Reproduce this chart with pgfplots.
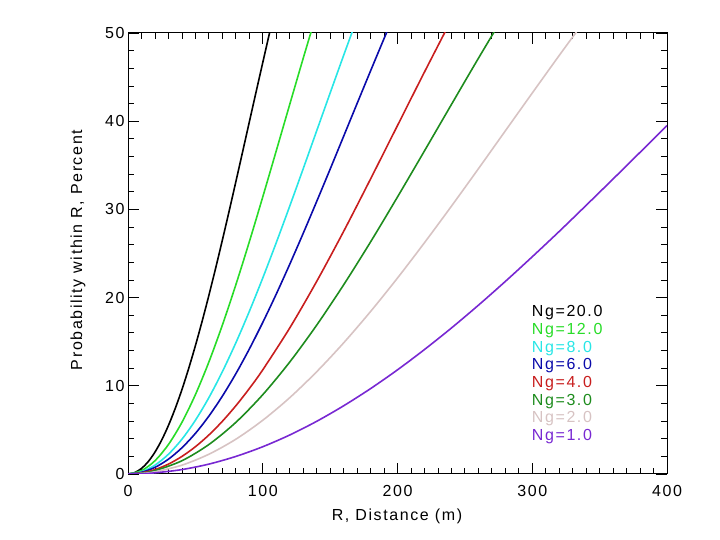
\documentclass[border=0pt]{standalone}
\usepackage{pgfplots}
\pgfplotsset{compat=1.18}
\usepackage{fontspec}
\setmainfont{Liberation Sans}[LetterSpace=10]
\definecolor{cBlack}{RGB}{0,0,0}
\definecolor{cGreen}{RGB}{40,220,40}
\definecolor{cCyan}{RGB}{40,230,230}
\definecolor{cNavy}{RGB}{10,10,170}
\definecolor{cRed}{RGB}{200,30,30}
\definecolor{cDkGreen}{RGB}{30,140,30}
\definecolor{cPink}{RGB}{215,195,195}
\definecolor{cPurple}{RGB}{120,40,210}
\begin{document}
\begin{tikzpicture}[x=1pt,y=1pt]
\path (0,0) rectangle (720,540);
\begin{axis}[
  at={(128pt,66pt)}, anchor=south west,
  scale only axis, width=539pt, height=441pt,
  xmin=0, xmax=400, ymin=0, ymax=50,
  xtick={0,100,200,300,400}, ytick={0,10,20,30,40,50},
  minor x tick num=9, minor y tick num=4,
  tick align=inside, tick pos=both,
  major tick length=11pt, minor tick length=6pt,
  every tick/.style={black, line width=0.8pt},
  axis line style={line width=1pt},
  font=\fontsize{16}{18}\selectfont,
  /pgf/number format/assume math mode=true,
  xticklabel style={yshift=-8pt},
  xlabel={R, Distance (m)},
  ylabel={Probability within R, Percent},
  xlabel style={at={(axis description cs:0.499,-0.095)}, anchor=center},
  ylabel style={at={(axis description cs:-0.093,0.508)}, anchor=center, rotate=0},
  every axis plot/.append style={line width=1.6pt, smooth},
]
% Ng=20
\addplot[cBlack] coordinates {(0,0)(5,0.16)(10,0.63)(15,1.40)(20,2.48)(25,3.85)(30,5.50)(35,7.41)(40,9.56)(45,11.95)(50,14.54)(55,17.31)(60,20.24)(65,23.31)(70,26.50)(75,29.77)(80,33.11)(85,36.49)(90,39.89)(95,43.28)(100,46.64)(105,49.98)(110,53.25)};
% Ng=12
\addplot[cGreen] coordinates {(0,0)(10,0.38)(20,1.50)(30,3.34)(40,5.85)(50,8.99)(60,12.69)(70,16.87)(80,21.44)(90,26.31)(100,31.41)(110,36.63)(120,41.89)(130,47.12)(140,52.23)};
% Ng=8
\addplot[cCyan] coordinates {(0,0)(10,0.25)(20,1.00)(30,2.24)(40,3.94)(50,6.09)(60,8.65)(70,11.59)(80,14.86)(90,18.42)(100,22.22)(110,26.22)(120,30.36)(130,34.60)(140,38.90)(150,43.19)(160,47.45)(170,51.63)};
% Ng=6
\addplot[cNavy] coordinates {(0,0)(10,0.19)(20,0.75)(30,1.68)(40,2.97)(50,4.60)(60,6.56)(70,8.82)(80,11.36)(90,14.16)(100,17.18)(110,20.39)(120,23.77)(130,27.28)(140,30.89)(150,34.56)(160,38.28)(170,42.00)(180,45.70)(190,49.36)(200,52.95)};
% Ng=4
\addplot[cRed] coordinates {(0,0)(10,0.13)(20,0.50)(30,1.12)(40,1.99)(50,3.09)(60,4.42)(70,5.97)(80,7.73)(90,9.68)(100,11.81)(120,16.55)(140,21.83)(160,27.50)(180,33.45)(200,39.51)(220,45.57)(240,51.51)};
% Ng=3
\addplot[cDkGreen] coordinates {(0,0)(10,0.09)(20,0.38)(40,1.50)(60,3.34)(80,5.85)(100,8.99)(120,12.69)(140,16.87)(160,21.44)(180,26.31)(200,31.41)(220,36.63)(240,41.89)(260,47.12)(280,52.23)};
% Ng=2
\addplot[cPink] coordinates {(0,0)(10,0.06)(20,0.25)(40,1.00)(60,2.24)(80,3.94)(100,6.09)(120,8.65)(140,11.59)(160,14.86)(180,18.42)(200,22.22)(220,26.22)(240,30.36)(260,34.60)(280,38.90)(300,43.19)(320,47.45)(340,51.63)};
% Ng=1
\addplot[cPurple] coordinates {(0,0)(10,0.03)(20,0.13)(40,0.50)(60,1.12)(80,1.99)(100,3.09)(120,4.42)(140,5.97)(160,7.73)(180,9.68)(200,11.81)(220,14.11)(240,16.55)(260,19.13)(280,21.83)(300,24.63)(320,27.50)(340,30.46)(360,33.45)(380,36.47)(400,39.51)};
\begin{scope}[every node/.style={anchor=west, inner sep=0pt, font=\fontsize{16}{18}\selectfont}]
\node[cBlack]   at (rel axis cs:0.749,0.365) {Ng=20.0};
\node[cGreen]   at (rel axis cs:0.749,0.325) {Ng=12.0};
\node[cCyan]    at (rel axis cs:0.749,0.285) {Ng=8.0};
\node[cNavy]    at (rel axis cs:0.749,0.245) {Ng=6.0};
\node[cRed]     at (rel axis cs:0.749,0.205) {Ng=4.0};
\node[cDkGreen] at (rel axis cs:0.749,0.165) {Ng=3.0};
\node[cPink]    at (rel axis cs:0.749,0.125) {Ng=2.0};
\node[cPurple]  at (rel axis cs:0.749,0.085) {Ng=1.0};
\end{scope}
\end{axis}
\end{tikzpicture}
\end{document}
